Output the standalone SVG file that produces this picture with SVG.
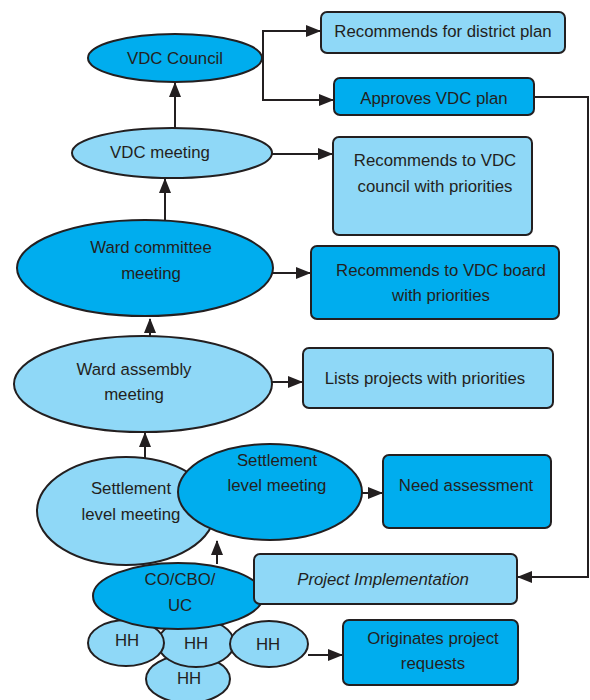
<svg xmlns="http://www.w3.org/2000/svg" width="590" height="700" viewBox="0 0 590 700">
<style>
.l{fill:#8FD8F7;stroke:#231F20;stroke-width:2}
.d{fill:#00ADEE;stroke:#231F20;stroke-width:2}
text{font-family:"Liberation Sans",Arial,sans-serif;font-size:16.8px;fill:#231F20;text-anchor:middle}
.c{fill:none;stroke:#231F20;stroke-width:2}
</style>
<defs>
<marker id="a" markerUnits="userSpaceOnUse" markerWidth="15" markerHeight="12" refX="14" refY="6" orient="auto">
<path d="M0,0 L15,6 L0,12 Z" fill="#231F20"/>
</marker>
</defs>
<rect width="590" height="700" fill="#fff"/>
<g id="connectors">
<path class="c" d="M263,58 V31 H320" marker-end="url(#a)"/>
<path class="c" d="M263,58 V100 H333" marker-end="url(#a)"/>
<path class="c" d="M534,97 H588 V577 H518" marker-end="url(#a)"/>
<path class="c" d="M175,128 V83" marker-end="url(#a)"/>
<path class="c" d="M272,154 H332" marker-end="url(#a)"/>
<path class="c" d="M165,220 V179" marker-end="url(#a)"/>
<path class="c" d="M272,273 H310" marker-end="url(#a)"/>
<path class="c" d="M150,337 V319" marker-end="url(#a)"/>
<path class="c" d="M272,382 H302" marker-end="url(#a)"/>
<path class="c" d="M145,458 V433" marker-end="url(#a)"/>
<path class="c" d="M362,493 H382" marker-end="url(#a)"/>
<path class="c" d="M217,564 V541" marker-end="url(#a)"/>
<path class="c" d="M308,655 H342" marker-end="url(#a)"/>
</g>
<g id="vdc-council"><ellipse class="d" cx="175" cy="58" rx="87" ry="24"/><text x="175" y="64">VDC Council</text></g>
<g id="district-plan"><rect class="l" x="321" y="12" width="244" height="41" rx="6"/><text x="443" y="37">Recommends for district plan</text></g>
<g id="approves"><rect class="d" x="334" y="78" width="200" height="37" rx="6"/><text x="434" y="104">Approves VDC plan</text></g>
<g id="vdc-meeting"><ellipse class="l" cx="172" cy="153" rx="100" ry="25"/><text x="160" y="158">VDC meeting</text></g>
<g id="rec-council"><rect class="l" x="333" y="137" width="199" height="98" rx="6"/><text x="435" y="166">Recommends to VDC</text><text x="435" y="192">council with priorities</text></g>
<g id="ward-committee"><ellipse class="d" cx="145" cy="268" rx="128" ry="48"/><text x="151" y="253">Ward committee</text><text x="151" y="279">meeting</text></g>
<g id="rec-board"><rect class="d" x="311" y="246" width="248" height="73" rx="6"/><text x="441" y="276">Recommends to VDC board</text><text x="441" y="301">with priorities</text></g>
<g id="ward-assembly"><ellipse class="l" cx="143" cy="384" rx="129" ry="48"/><text x="134" y="375">Ward assembly</text><text x="134" y="400">meeting</text></g>
<g id="lists"><rect class="l" x="303" y="348" width="250" height="60" rx="6"/><text x="425" y="384">Lists projects with priorities</text></g>
<g id="settlement-1"><ellipse class="l" cx="126" cy="511" rx="89" ry="54"/><text x="131" y="494">Settlement</text><text x="131" y="520">level meeting</text></g>
<g id="settlement-2"><ellipse class="d" cx="270" cy="492" rx="92" ry="48"/><text x="277" y="466">Settlement</text><text x="277" y="491">level meeting</text></g>
<g id="need"><rect class="d" x="383" y="455" width="168" height="73" rx="6"/><text x="466" y="491">Need assessment</text></g>
<g id="hh4"><ellipse class="l" cx="188" cy="679" rx="42" ry="24"/><text x="189" y="684">HH</text></g>
<g id="hh2"><ellipse class="l" cx="196" cy="643" rx="38" ry="24"/><text x="196" y="649">HH</text></g>
<g id="hh1"><ellipse class="l" cx="126" cy="643" rx="38" ry="23"/><text x="127" y="646">HH</text></g>
<g id="hh3"><ellipse class="l" cx="269" cy="644" rx="39" ry="23"/><text x="268" y="650">HH</text></g>
<g id="co-cbo"><ellipse class="d" cx="178" cy="596" rx="85" ry="33"/><text x="180" y="585">CO/CBO/</text><text x="180" y="611">UC</text></g>
<g id="implementation"><rect class="l" x="254" y="554" width="263" height="50" rx="6"/><text x="383" y="585" font-style="italic">Project Implementation</text></g>
<g id="originates"><rect class="d" x="343" y="620" width="175" height="65" rx="6"/><text x="433" y="644">Originates project</text><text x="433" y="669">requests</text></g>
</svg>
